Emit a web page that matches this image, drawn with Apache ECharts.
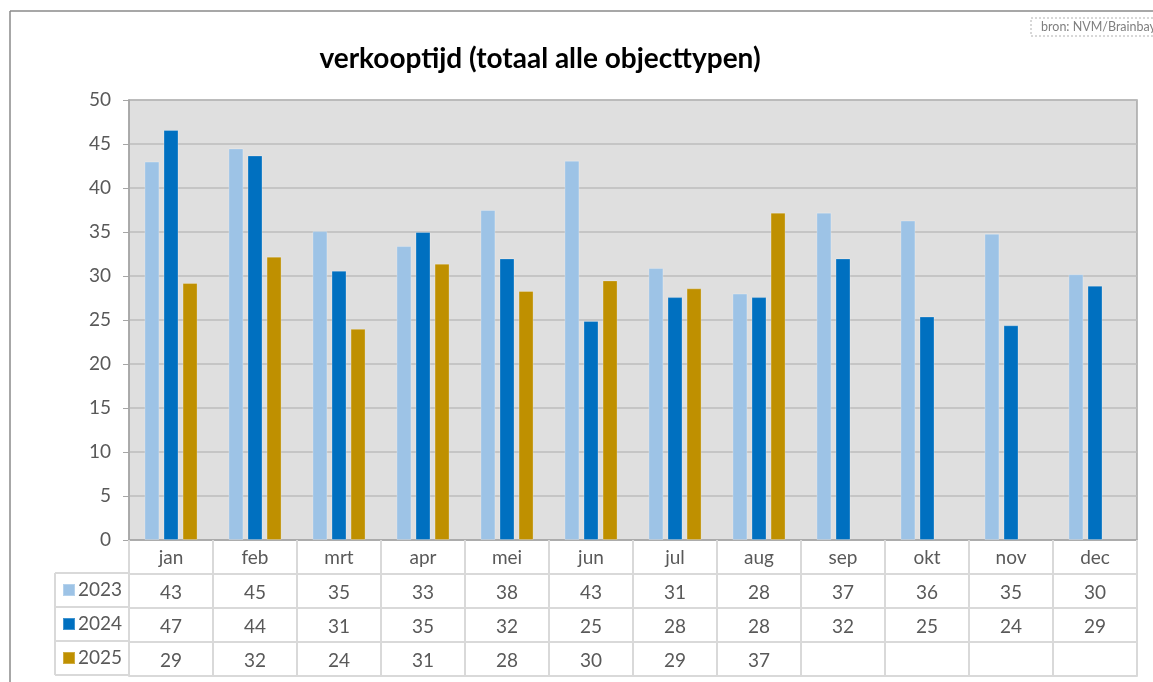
<!DOCTYPE html>
<html>
<head>
<meta charset="utf-8">
<script src="https://cdn.jsdelivr.net/npm/echarts@6/dist/echarts.min.js"></script>
<style>
  html, body { margin: 0; padding: 0; background: #ffffff; }
  #chart { width: 1153px; height: 682px; }
</style>
</head>
<body>
<div id="chart"></div>
<script>
// maanden en verkooptijd (dagen) per jaar
const months = ['jan', 'feb', 'mrt', 'apr', 'mei', 'jun', 'jul', 'aug', 'sep', 'okt', 'nov', 'dec'];
const years = ['2023', '2024', '2025'];
const v2023 = [43.0, 44.5, 35.1, 33.4, 37.5, 43.1, 30.9, 28.0, 37.2, 36.3, 34.8, 30.2];
const v2024 = [46.6, 43.7, 30.6, 35.0, 32.0, 24.9, 27.6, 27.6, 32.0, 25.4, 24.4, 28.9];
const v2025 = [29.2, 32.2, 24.0, 31.4, 28.3, 29.5, 28.6, 37.2, null, null, null, null];
const colors = ['#9dc3e6', '#0070c0', '#bf9000'];

const FONT = 'Lato';
const GREY = '#595959';
const ROW = 34;
const cells = [v2023, v2024, v2025];

let chart = echarts.init(document.getElementById('chart'));

// extra x-assen vormen de datatabel onder de grafiek
const tableAxes = cells.map((vals, i) => ({
  type: 'category',
  gridIndex: 0,
  position: 'bottom',
  offset: ROW * (i + 1),
  data: months,
  axisLine: { show: true, lineStyle: { color: '#d9d9d9', width: 2 } },
  axisTick: { show: true, length: ROW, lineStyle: { color: '#d9d9d9', width: 2 } },
  axisLabel: {
    margin: 9,
    fontFamily: FONT, fontSize: 19, color: GREY,
    formatter: (v, idx) => vals[idx] == null ? '' : String(Math.round(vals[idx]))
  },
  splitLine: { show: false }
}));

const xAxes = [{
  type: 'category',
  data: months,
  position: 'bottom',
  axisLine: { show: true, lineStyle: { color: '#a6a6a6', width: 1.5 } },
  axisTick: { show: true, length: ROW, lineStyle: { color: '#d9d9d9', width: 2 } },
  axisLabel: { margin: 8, fontFamily: FONT, fontSize: 19, color: GREY }
}].concat(tableAxes).concat([{
  type: 'category',
  position: 'bottom',
  offset: ROW * 4,
  data: months,
  axisLine: { show: true, lineStyle: { color: '#d9d9d9', width: 2 } },
  axisTick: { show: false },
  axisLabel: { show: false }
}]);

// linkerkolom van de tabel (legenda-cellen)
const legendLines = [];
for (let i = 0; i <= 3; i++) {
  legendLines.push({
    type: 'line',
    shape: { x1: 55, y1: 573 + ROW * i, x2: 129, y2: 573 + ROW * i },
    style: { stroke: '#d9d9d9', lineWidth: 2 }
  });
}
legendLines.push({
  type: 'line',
  shape: { x1: 55, y1: 573, x2: 55, y2: 573 + ROW * 3 },
  style: { stroke: '#d9d9d9', lineWidth: 2 }
});

chart.setOption({
  animation: false,
  backgroundColor: '#ffffff',
  title: {
    text: 'verkooptijd (totaal alle objecttypen)',
    left: 535,
    top: 40,
    textAlign: 'center',
    textStyle: { fontFamily: FONT, fontSize: 28, fontWeight: 'bold', color: '#000000' }
  },
  legend: {
    orient: 'vertical',
    left: 62,
    top: 573,
    padding: 0,
    itemGap: 0,
    itemWidth: 12,
    itemHeight: 12,
    selectedMode: false,
    icon: 'rect',
    data: years,
    textStyle: { fontFamily: FONT, fontSize: 19, color: GREY, lineHeight: ROW, padding: [0, 0, 0, -2] }
  },
  grid: {
    left: 129, right: 16, top: 100, bottom: 142,
    show: true,
    backgroundColor: '#dfdfdf',
    borderColor: '#a6a6a6',
    borderWidth: 1.5
  },
  xAxis: xAxes,
  yAxis: {
    type: 'value',
    min: 0, max: 50, interval: 5,
    axisLine: { show: true, lineStyle: { color: '#a6a6a6', width: 1.5 } },
    axisTick: { show: true, length: 6, lineStyle: { color: '#a6a6a6' } },
    axisLabel: { margin: 18, fontFamily: FONT, fontSize: 19, color: GREY },
    splitLine: { lineStyle: { color: '#bdbdbd', width: 1.5 } }
  },
  series: [v2023, v2024, v2025].map((vals, i) => ({
    name: years[i],
    type: 'bar',
    data: vals,
    barWidth: 15,
    barGap: '27%',
    itemStyle: { color: colors[i], borderColor: 'rgba(255,255,255,0.25)', borderWidth: 1 }
  })),
  graphic: [
    { type: 'line', shape: { x1: 10, y1: 11, x2: 1153, y2: 11 }, style: { stroke: '#8a8a8a', lineWidth: 1.5 } },
    { type: 'line', shape: { x1: 10, y1: 11, x2: 10, y2: 682 }, style: { stroke: '#8a8a8a', lineWidth: 1.5 } },
    { type: 'rect', shape: { x: 1031, y: 18, width: 130, height: 18 },
      style: { fill: '#ffffff', stroke: '#b0b0b0', lineWidth: 1, lineDash: [2, 2] } },
    { type: 'text', x: 1041, y: 20,
      style: { text: 'bron: NVM/Brainbay', fontFamily: FONT, fontSize: 12.5, fill: '#7f7f7f' } }
  ].concat(legendLines)
});
</script>
</body>
</html>
